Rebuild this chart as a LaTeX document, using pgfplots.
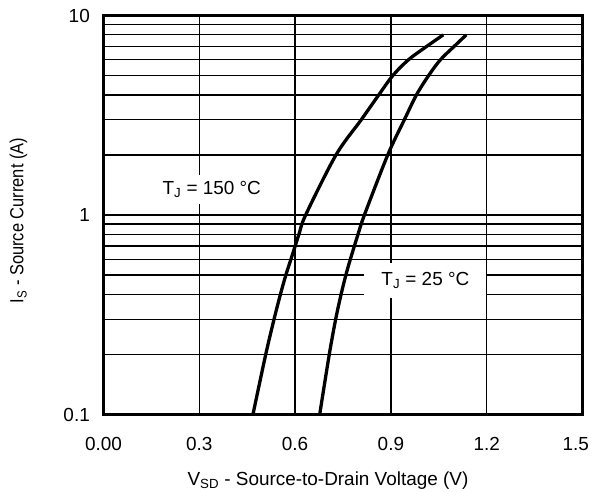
\documentclass[border=0pt]{standalone}
\usepackage{pgfplots}
\pgfplotsset{compat=1.18}
\usepackage{graphicx}
\usepackage{fontspec}
\setmainfont{Liberation Sans}
\begin{document}
\begin{tikzpicture}[font=\fontsize{19}{22}\selectfont]
\begin{axis}[
  scale only axis,
  width=479bp, height=399bp,
  xmin=0, xmax=1.5,
  ymode=log, ymin=0.1, ymax=10,
  xtick={0,0.3,0.6,0.9,1.2,1.5},
  xticklabels={0.00,0.3,0.6,0.9,1.2,\hbox to 0pt{\hss 1.5\hskip -6.5bp}},
  ytick={0.1,1,10},
  yticklabels={0.1,1,10},
  minor ytick={0.2,0.3,0.4,0.5,0.6,0.7,0.8,0.9,2,3,4,5,6,7,8,9},
  xmajorgrids, ymajorgrids, yminorgrids,
  major grid style={black, line width=1.3bp},
  minor grid style={black, line width=1.3bp},
  major tick length=0pt, minor tick length=0pt,
  axis line style={line width=3.2bp},
  xticklabel style={anchor=center, inner sep=0pt, yshift=-29.5bp},
  yticklabel style={anchor=east, inner sep=0pt, xshift=-13.5bp},
]
% T_J = 150 C
\addplot[black, line width=3.3bp, smooth] coordinates {
 (0.468,0.1) (0.508,0.2) (0.534,0.3) (0.554,0.4) (0.571,0.5) (0.587,0.6)
 (0.612,0.8) (0.633,1.0) (0.728,2) (0.807,3) (0.862,4) (0.906,5)
 (0.955,6) (1.012,7) (1.064,8)
};
% T_J = 25 C
\addplot[black, line width=3.3bp, smooth] coordinates {
 (0.677,0.1) (0.707,0.2) (0.727,0.3) (0.744,0.4) (0.759,0.5) (0.773,0.6)
 (0.797,0.8) (0.817,1.0) (0.890,2) (0.942,3) (0.980,4) (1.018,5)
 (1.055,6) (1.098,7) (1.136,8)
};
\node[fill=white, inner xsep=15bp, inner ysep=6bp] at (axis cs:0.339,1.34) {T\textsubscript{J} = 150 °C};
\node[fill=white, inner xsep=17bp, inner ysep=9bp] at (axis cs:1.008,0.47) {T\textsubscript{J} = 25 °C};
\end{axis}
\node[rotate=90] at ([xshift=-85bp,yshift=-5.5bp]current axis.west) {\scalebox{0.87}[1]{I\textsubscript{S} - Source Current (A)}};
\node at ([xshift=-15bp,yshift=-66bp]current axis.south) {V\textsubscript{SD} - Source-to-Drain Voltage (V)};
\pgfresetboundingbox
\path ([shift={(-103.5bp,-77.5bp)}]current axis.south west) rectangle ([shift={(10.5bp,15.5bp)}]current axis.north east);
\end{tikzpicture}
\end{document}
